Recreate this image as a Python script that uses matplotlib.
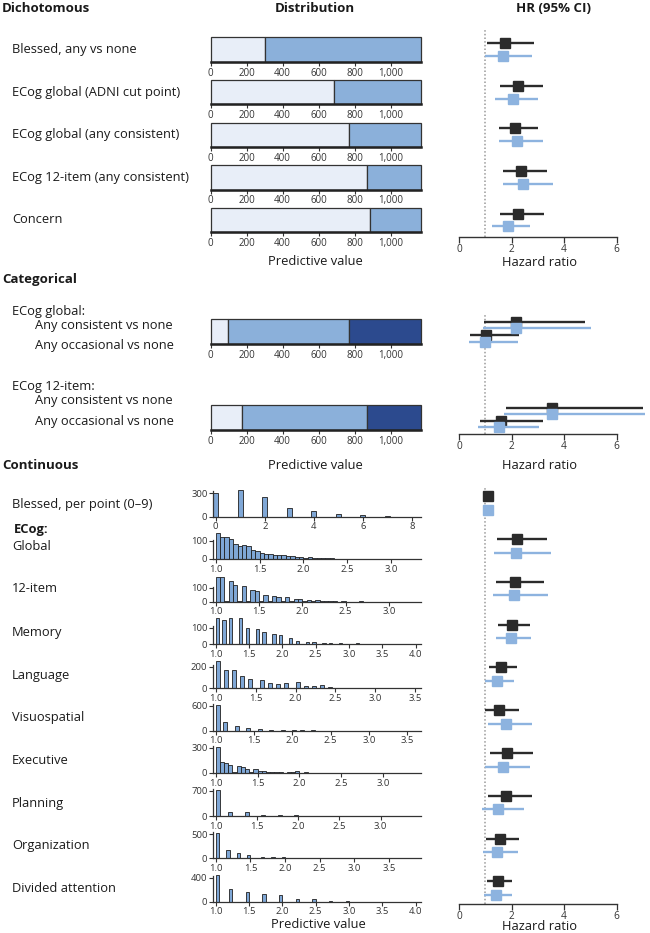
import matplotlib
matplotlib.use("Agg")
import matplotlib.pyplot as plt
import numpy as np
from matplotlib.ticker import FuncFormatter

plt.rcParams['font.family'] = ['Open Sans', 'DejaVu Sans']
plt.rcParams['text.color'] = '#1a1a1a'
plt.rcParams['xtick.color'] = '#333333'
plt.rcParams['ytick.color'] = '#333333'

# ---------------- data ----------------
dich_labels = ["Blessed, any vs none", "ECog global (ADNI cut point)",
               "ECog global (any consistent)", "ECog 12-item (any consistent)", "Concern"]
dich_none = [303, 687, 770, 870, 887]
dich_any = [864, 480, 397, 297, 280]
dich_hr_a = [1.75, 2.24, 2.13, 2.35, 2.24]
dich_lo_a = [1.06, 1.56, 1.51, 1.66, 1.56]
dich_hi_a = [2.84, 3.18, 2.99, 3.33, 3.23]
dich_hr_b = [1.66, 2.04, 2.19, 2.43, 1.85]
dich_lo_b = [0.99, 1.37, 1.51, 1.66, 1.27]
dich_hi_b = [2.76, 3.02, 3.18, 3.56, 2.70]

cat_groups = ["ECog global:", "ECog 12-item:"]
cat_rows = ["Any consistent vs none", "Any occasional vs none"]
cat_none = [96, 176]
cat_occ = [672, 690]
cat_cons = [399, 301]
cat_hr_a = [2.18, 1.01, 3.54, 1.61]
cat_lo_a = [0.96, 0.43, 1.79, 0.80]
cat_hi_a = [4.79, 2.28, 7.00, 3.18]
cat_hr_b = [2.18, 0.98, 3.54, 1.53]
cat_lo_b = [0.92, 0.39, 1.72, 0.73]
cat_hi_b = [5.01, 2.24, 7.30, 3.04]

cont_labels = ["Blessed, per point (0\u20139)", "Global", "12-item", "Memory", "Language",
               "Visuospatial", "Executive", "Planning", "Organization", "Divided attention"]
cont_hr_a = [1.12, 2.19, 2.14, 2.00, 1.60, 1.51, 1.84, 1.77, 1.55, 1.47]
cont_lo_a = [1.08, 1.46, 1.42, 1.47, 1.14, 0.99, 1.18, 1.11, 1.03, 1.08]
cont_hi_a = [1.16, 3.33, 3.22, 2.70, 2.22, 2.28, 2.81, 2.76, 2.28, 2.00]
cont_hr_b = [1.09, 2.16, 2.11, 1.96, 1.46, 1.77, 1.66, 1.48, 1.46, 1.39]
cont_lo_b = [1.05, 1.33, 1.30, 1.41, 0.99, 1.11, 0.99, 0.86, 0.92, 0.95]
cont_hi_b = [1.13, 3.51, 3.37, 2.75, 2.09, 2.79, 2.72, 2.48, 2.25, 2.00]

# histograms: bin left edges (or centers for Blessed) and counts
blessed_x = [0, 1, 2, 3, 4, 5, 6, 7, 8]
blessed_n = [305, 343, 247, 115, 75, 40, 17, 8, 2]
global_n = [146, 124, 123, 109, 85, 72, 76, 70, 48, 43, 35, 30, 28, 22, 24, 20, 15, 15, 13, 11,
            8, 11, 8, 6, 6, 4, 3, 2, 2, 1, 2, 1, 0, 1, 0, 1, 0, 0, 0, 0, 0, 0, 0, 0, 0, 1]
item12_n = [177, 177, 5, 148, 120, 6, 109, 5, 86, 80, 8, 48, 4, 41, 32, 3, 34, 3, 18, 18,
            3, 10, 2, 12, 3, 5, 2, 4, 1, 4, 1, 1, 0, 2, 0, 1, 0, 0, 0, 1]
memory_x = [1.0, 1.1, 1.2, 1.35, 1.45, 1.6, 1.7, 1.85, 1.95, 2.1, 2.2, 2.35, 2.45, 2.6, 2.7,
            2.85, 2.95, 3.1, 3.2, 3.35, 3.45]
memory_n = [157, 146, 160, 157, 98, 92, 72, 60, 58, 36, 22, 14, 12, 7, 7, 5, 3, 5, 4, 2, 1]
language_x = [1.0, 1.1, 1.2, 1.3, 1.4, 1.55, 1.65, 1.75, 1.85, 2.0, 2.1, 2.2, 2.3, 2.4, 2.55,
              2.65, 2.75, 2.85, 3.0, 3.1, 3.2, 3.3]
language_n = [250, 170, 170, 112, 88, 79, 53, 40, 50, 60, 22, 20, 26, 8, 5, 4, 3, 3, 2, 2, 1, 1]
visuo_x = [1.0, 1.1, 1.25, 1.4, 1.55, 1.7, 1.85, 2.0, 2.1, 2.25, 2.4, 2.55, 2.7, 2.85, 3.0]
visuo_n = [620, 220, 110, 60, 45, 28, 22, 20, 5, 5, 3, 3, 2, 2, 1]
exec_n = [313, 135, 115, 91, 10, 87, 68, 47, 8, 44, 27, 24, 6, 15, 15, 12, 4, 10, 6, 18,
          3, 8, 4, 3, 2, 4, 2, 2, 1, 2, 1, 1, 0, 1, 0, 0, 1]
planning_x = [1.0, 1.15, 1.35, 1.55, 1.75, 1.95, 2.15, 2.35, 2.55, 2.75, 2.95]
planning_n = [720, 122, 103, 37, 28, 28, 6, 4, 3, 2, 2]
organ_x = [1.0, 1.15, 1.3, 1.45, 1.65, 1.8, 1.95, 2.15, 2.3, 2.45, 2.65, 2.8, 2.95, 3.15]
organ_n = [527, 171, 103, 62, 33, 33, 25, 10, 6, 4, 3, 2, 2, 1]
divided_x = [1.0, 1.2, 1.45, 1.7, 1.95, 2.2, 2.45, 2.7, 2.95, 3.2, 3.45]
divided_n = [445, 207, 162, 128, 117, 40, 40, 10, 5, 3, 2]

BIN = 0.05
def dense_edges(counts):
    return list(1.0 + BIN * np.arange(len(counts)))

hists = [
    dict(x=blessed_x, n=blessed_n, w=0.2, align='center', xmin=-0.11, xmax=8.37,
         xt=[0, 2, 4, 6, 8], fmt='{:.0f}', yt=300),
    dict(x=dense_edges(global_n), n=global_n, w=BIN, align='edge', xmin=0.97, xmax=3.34,
         xt=[1.0, 1.5, 2.0, 2.5, 3.0], fmt='{:.1f}', yt=100),
    dict(x=dense_edges(item12_n), n=item12_n, w=BIN, align='edge', xmin=0.97, xmax=3.37,
         xt=[1.0, 1.5, 2.0, 2.5, 3.0], fmt='{:.1f}', yt=100),
    dict(x=memory_x, n=memory_n, w=BIN, align='edge', xmin=0.96, xmax=4.08,
         xt=[1.0, 1.5, 2.0, 2.5, 3.0, 3.5, 4.0], fmt='{:.1f}', yt=100),
    dict(x=language_x, n=language_n, w=BIN, align='edge', xmin=0.967, xmax=3.57,
         xt=[1.0, 1.5, 2.0, 2.5, 3.0, 3.5], fmt='{:.1f}', yt=200),
    dict(x=visuo_x, n=visuo_n, w=BIN, align='edge', xmin=0.965, xmax=3.68,
         xt=[1.0, 1.5, 2.0, 2.5, 3.0, 3.5], fmt='{:.1f}', yt=600),
    dict(x=dense_edges(exec_n), n=exec_n, w=BIN, align='edge', xmin=0.968, xmax=3.45,
         xt=[1.0, 1.5, 2.0, 2.5, 3.0], fmt='{:.1f}', yt=300),
    dict(x=planning_x, n=planning_n, w=BIN, align='edge', xmin=0.967, xmax=3.49,
         xt=[1.0, 1.5, 2.0, 2.5, 3.0], fmt='{:.1f}', yt=700),
    dict(x=organ_x, n=organ_n, w=BIN, align='edge', xmin=0.961, xmax=3.96,
         xt=[1.0, 1.5, 2.0, 2.5, 3.0, 3.5], fmt='{:.1f}', yt=500),
    dict(x=divided_x, n=divided_n, w=BIN, align='edge', xmin=0.96, xmax=4.08,
         xt=[1.0, 1.5, 2.0, 2.5, 3.0, 3.5, 4.0], fmt='{:.1f}', yt=400),
]

# ---------------- style ----------------
LIGHT = '#e8eef8'
MED = '#8bb0da'
DARK = '#2c4a8e'
HISTC = '#7fa7d6'
BLK = '#2b2b2b'
BLU = '#8db3df'
EDGE = '#333333'

W, H = 650, 933
fig = plt.figure(figsize=(6.5, 9.33), dpi=100)

def axpx(x0, y0, x1, y1):
    return fig.add_axes([x0 / W, 1 - y1 / H, (x1 - x0) / W, (y1 - y0) / H])

def ftext(x, y, s, **kw):
    kw.setdefault('va', 'center')
    fig.text(x / W, 1 - y / H, s, **kw)

LAB = 9.3
TICK = 7
HEAD = 9.5

def bar_axes(y_top, y_bot, segments, colors):
    ax = axpx(210.7, y_top, 420.7, y_bot)
    left = 0
    for val, col in zip(segments, colors):
        ax.barh(0, val, left=left, height=1, color=col, edgecolor=EDGE, lw=0.9, clip_on=False)
        left += val
    ax.set_xlim(0, sum(segments))
    ax.set_ylim(-0.5, 0.5)
    for s in ['top', 'right', 'left']:
        ax.spines[s].set_visible(False)
    ax.spines['bottom'].set_linewidth(1.8)
    ax.spines['bottom'].set_color('#222222')
    ax.spines['bottom'].set_zorder(5)
    ax.set_yticks([])
    ax.set_xticks(range(0, 1001, 200))
    ax.xaxis.set_major_formatter(FuncFormatter(lambda v, p: '{:,.0f}'.format(v)))
    ax.tick_params(axis='x', length=3, width=0.8, pad=1.2, labelsize=TICK)
    ax.patch.set_visible(False)
    return ax

FX0, FX1, FPX = 459, 645, 26.28

def forest_axes(y_top, y_bot, ylim):
    ax = axpx(FX0, y_top, FX1, y_bot)
    ax.set_xlim(0, (FX1 - FX0) / FPX)
    ax.set_ylim(*ylim)
    for s in ['top', 'right', 'left']:
        ax.spines[s].set_visible(False)
    ax.spines['bottom'].set_bounds(0, 6)
    ax.spines['bottom'].set_linewidth(1.0)
    ax.spines['bottom'].set_color('#333333')
    ax.set_yticks([])
    ax.set_xticks([0, 2, 4, 6])
    ax.tick_params(axis='x', length=4, width=0.9, pad=1, labelsize=TICK + 0.3)
    ax.axvline(1, color='#9a9a9a', lw=1.1, ls=(0, (1, 1.4)), zorder=1)
    ax.patch.set_visible(False)
    return ax

def draw_forest(ax, ys, hr, lo, hi, color, ms, z):
    for y, h, l, u in zip(ys, hr, lo, hi):
        ax.plot([l, u], [y, y], color=color, lw=1.7, solid_capstyle='butt', zorder=z)
        ax.plot([h], [y], marker='s', ms=ms, color=color, mec=color, zorder=z + 0.5)

# ---------------- headers ----------------
ftext(2, 8, "Dichotomous", fontsize=HEAD, fontweight='bold')
ftext(315, 8, "Distribution", fontsize=HEAD, fontweight='bold', ha='center')
ftext(553, 8, "HR (95% CI)", fontsize=HEAD, fontweight='bold', ha='center')

# ---------------- dichotomous ----------------
d_top0, d_step, d_h = 37.3, 42.6, 24.5
for i, lab in enumerate(dich_labels):
    yt = d_top0 + i * d_step
    bar_axes(yt, yt + d_h, [dich_none[i], dich_any[i]], [LIGHT, MED])
    ftext(12, yt + d_h / 2, lab, fontsize=LAB)
ftext(315, 262, "Predictive value", fontsize=LAB, ha='center')

nd = len(dich_labels)
axf = forest_axes(30.3, 236.7, (nd - 1 + 0.39, -0.45))
rows = np.arange(nd)
draw_forest(axf, rows - 0.15, dich_hr_a, dich_lo_a, dich_hi_a, BLK, 7.0, 3)
draw_forest(axf, rows + 0.15, dich_hr_b, dich_lo_b, dich_hi_b, BLU, 7.0, 4)
ftext(539, 263, "Hazard ratio", fontsize=LAB, ha='center')

# ---------------- categorical ----------------
ftext(2, 279.3, "Categorical", fontsize=HEAD, fontweight='bold')
c_tops = [319.3, 405.0]
c_lab = [311.7, 386.7]
for g, grp in enumerate(cat_groups):
    bar_axes(c_tops[g], c_tops[g] + 25, [cat_none[g], cat_occ[g], cat_cons[g]], [LIGHT, MED, DARK])
    ftext(12, c_lab[g], grp, fontsize=LAB)
    for r, rl in enumerate(cat_rows):
        ftext(35, c_lab[g] + 13.5 + r * 20.8, rl, fontsize=LAB)
ftext(315, 466, "Predictive value", fontsize=LAB, ha='center')

GAP = 6.47
cys = np.array([g * GAP + r for g in range(len(cat_groups)) for r in range(len(cat_rows))])
axc = forest_axes(315, 434, (GAP + 1 + 0.77, -0.78))
draw_forest(axc, cys - 0.23, cat_hr_a, cat_lo_a, cat_hi_a, BLK, 6.8, 3)
draw_forest(axc, cys + 0.23, cat_hr_b, cat_lo_b, cat_hi_b, BLU, 6.8, 4)
ftext(539, 466, "Hazard ratio", fontsize=LAB, ha='center')

# ---------------- continuous ----------------
ftext(2, 466, "Continuous", fontsize=HEAD, fontweight='bold')
h_base = [516.7, 559.0, 601.7, 644.3, 688.3, 730.7, 773.0, 816.0, 858.3, 901.7]
h_top = [493.3, 541.0, 587.7, 627.7, 666.7, 705.7, 747.7, 790.7, 834.0, 877.7]
lab_y = [504.3, 546.7, 588.3, 632.3, 675.0, 717.7, 760.7, 803.3, 846.0, 889.0]
for i, hd in enumerate(hists):
    ext = 1.08
    ytop_px = h_base[i] - (h_base[i] - h_top[i]) * ext
    ax = axpx(213, ytop_px, 421, h_base[i])
    ax.bar(hd['x'], hd['n'], width=hd['w'], align=hd['align'], color=HISTC,
           edgecolor='#1f1f1f', lw=0.6, clip_on=False, zorder=2)
    ax.set_xlim(hd['xmin'], hd['xmax'])
    ax.set_ylim(0, hd['yt'] * ext)
    for s in ['top', 'right']:
        ax.spines[s].set_visible(False)
    for s in ['left', 'bottom']:
        ax.spines[s].set_linewidth(0.9)
        ax.spines[s].set_color('#333333')
    ax.spines['bottom'].set_zorder(3)
    ax.set_yticks([0, hd['yt']])
    ax.set_xticks(hd['xt'])
    f = hd['fmt']
    ax.xaxis.set_major_formatter(FuncFormatter(lambda v, p, f=f: f.format(v)))
    ax.tick_params(axis='both', length=3, width=0.8, pad=1, labelsize=6.8)
    ax.patch.set_visible(False)
    ftext(12, lab_y[i], cont_labels[i], fontsize=LAB)
ftext(14, 530, "ECog:", fontsize=LAB, fontweight='bold')
ftext(318, 925, "Predictive value", fontsize=LAB, ha='center')

nc = len(cont_labels)
axn = forest_axes(488, 904, (nc - 1 + 0.37, -0.35))
rr = np.arange(nc)
draw_forest(axn, rr - 0.16, cont_hr_a, cont_lo_a, cont_hi_a, BLK, 6.8, 3)
draw_forest(axn, rr + 0.16, cont_hr_b, cont_lo_b, cont_hi_b, BLU, 6.8, 4)
ftext(539, 927, "Hazard ratio", fontsize=LAB, ha='center')

fig.savefig("out.png", dpi=100)
